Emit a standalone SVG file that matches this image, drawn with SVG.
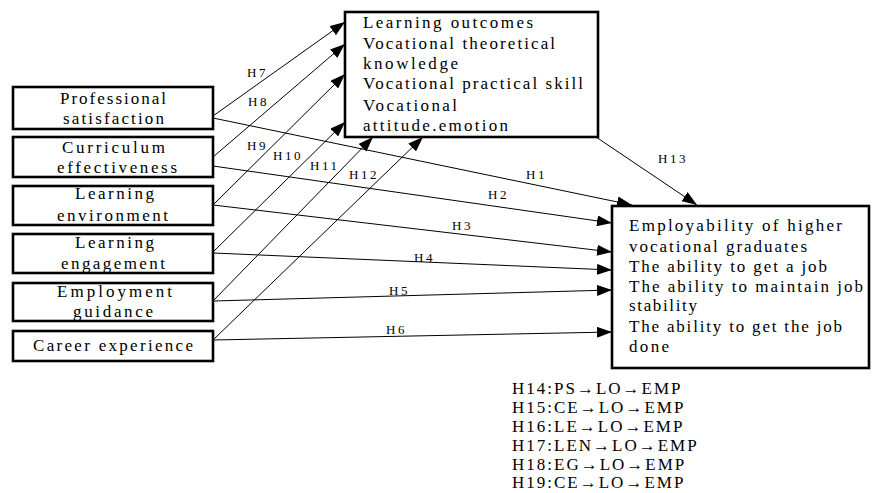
<svg xmlns="http://www.w3.org/2000/svg" width="872" height="493" viewBox="0 0 872 493">
<defs>
<marker id="ah" markerUnits="userSpaceOnUse" viewBox="0 0 15 11" markerWidth="15" markerHeight="11" refX="15" refY="5.5" orient="auto"><path d="M0,0 L15,5.5 L0,11 z" fill="#000"/></marker>
</defs>
<style>
.box{fill:#fff;stroke:#000;stroke-width:2.6}
.t{font-family:"Liberation Serif","Times New Roman",serif;font-size:17px;fill:#000}
.lbl{font-family:"Liberation Serif","Times New Roman",serif;font-size:13px;letter-spacing:2.5px;fill:#000}
.b{font-family:"Liberation Serif","Times New Roman",serif;font-size:17px;letter-spacing:2px;fill:#000}
.c line{stroke:#000;stroke-width:1;marker-end:url(#ah)}
</style>
<rect width="872" height="493" fill="#fff"/>
<g id="connectors" class="c">
<line x1="213" y1="116" x2="345" y2="22"/>
<line x1="213" y1="157" x2="345" y2="44"/>
<line x1="213" y1="205" x2="345" y2="74"/>
<line x1="213" y1="252" x2="345" y2="122"/>
<line x1="213" y1="301" x2="373" y2="137"/>
<line x1="213" y1="340" x2="423" y2="137"/>
<line x1="213" y1="118" x2="632" y2="205"/>
<line x1="213" y1="166" x2="612" y2="223"/>
<line x1="213" y1="205" x2="612" y2="252"/>
<line x1="213" y1="253" x2="612" y2="270"/>
<line x1="213" y1="301" x2="612" y2="290"/>
<line x1="213" y1="340" x2="612" y2="332"/>
<line x1="596" y1="137" x2="697" y2="205"/>
</g>
<g id="labels">
<text class="lbl" x="247" y="77">H7</text>
<text class="lbl" x="248" y="106">H8</text>
<text class="lbl" x="247" y="150">H9</text>
<text class="lbl" x="273" y="160">H10</text>
<text class="lbl" x="310" y="170">H11</text>
<text class="lbl" x="349" y="179">H12</text>
<text class="lbl" x="526" y="179">H1</text>
<text class="lbl" x="488" y="199">H2</text>
<text class="lbl" x="452" y="230">H3</text>
<text class="lbl" x="414" y="262">H4</text>
<text class="lbl" x="389" y="295">H5</text>
<text class="lbl" x="386" y="334">H6</text>
<text class="lbl" x="658" y="163">H13</text>
</g>
<g id="ps">
<rect class="box" x="13" y="87" width="200" height="42"/>
<text class="t" x="60" y="104" textLength="106" lengthAdjust="spacing">Professional</text>
<text class="t" x="63" y="124" textLength="101" lengthAdjust="spacing">satisfaction</text>
</g>
<g id="ce">
<rect class="box" x="13" y="137" width="200" height="40"/>
<text class="t" x="62" y="153" textLength="103" lengthAdjust="spacing">Curriculum</text>
<text class="t" x="57" y="173" textLength="120" lengthAdjust="spacing">effectiveness</text>
</g>
<g id="le">
<rect class="box" x="13" y="186" width="200" height="39"/>
<text class="t" x="75" y="199" textLength="79" lengthAdjust="spacing">Learning</text>
<text class="t" x="57" y="221" textLength="111" lengthAdjust="spacing">environment</text>
</g>
<g id="len">
<rect class="box" x="13" y="234" width="200" height="39"/>
<text class="t" x="75" y="248" textLength="79" lengthAdjust="spacing">Learning</text>
<text class="t" x="61" y="269" textLength="104" lengthAdjust="spacing">engagement</text>
</g>
<g id="eg">
<rect class="box" x="13" y="283" width="200" height="38"/>
<text class="t" x="57" y="297" textLength="115" lengthAdjust="spacing">Employment</text>
<text class="t" x="73" y="317" textLength="80" lengthAdjust="spacing">guidance</text>
</g>
<g id="cx">
<rect class="box" x="13" y="331" width="200" height="30"/>
<text class="t" x="33" y="351" textLength="160" lengthAdjust="spacing">Career experience</text>
</g>
<g id="lo">
<rect class="box" x="345" y="12" width="253" height="125"/>
<text class="t" x="363" y="28" textLength="170" lengthAdjust="spacing">Learning outcomes</text>
<text class="t" x="363" y="49" textLength="192" lengthAdjust="spacing">Vocational theoretical</text>
<text class="t" x="363" y="69" textLength="95" lengthAdjust="spacing">knowledge</text>
<text class="t" x="363" y="89" textLength="220" lengthAdjust="spacing">Vocational practical skill</text>
<text class="t" x="363" y="111" textLength="94" lengthAdjust="spacing">Vocational</text>
<text class="t" x="363" y="131" textLength="145" lengthAdjust="spacing">attitude.emotion</text>
</g>
<g id="emp">
<rect class="box" x="612" y="206" width="257" height="162"/>
<text class="t" x="629" y="231" textLength="213" lengthAdjust="spacing">Employability of higher</text>
<text class="t" x="629" y="252" textLength="178" lengthAdjust="spacing">vocational graduates</text>
<text class="t" x="629" y="272" textLength="198" lengthAdjust="spacing">The ability to get a job</text>
<text class="t" x="629" y="292" textLength="234" lengthAdjust="spacing">The ability to maintain job</text>
<text class="t" x="629" y="311" textLength="68" lengthAdjust="spacing">stability</text>
<text class="t" x="629" y="332" textLength="213" lengthAdjust="spacing">The ability to get the job</text>
<text class="t" x="629" y="352" textLength="40" lengthAdjust="spacing">done</text>
</g>
<g id="mediation">
<text class="b" x="512" y="394">H14:PS→LO→EMP</text>
<text class="b" x="512" y="413">H15:CE→LO→EMP</text>
<text class="b" x="512" y="432">H16:LE→LO→EMP</text>
<text class="b" x="512" y="451">H17:LEN→LO→EMP</text>
<text class="b" x="512" y="470">H18:EG→LO→EMP</text>
<text class="b" x="512" y="488">H19:CE→LO→EMP</text>
</g>
</svg>
